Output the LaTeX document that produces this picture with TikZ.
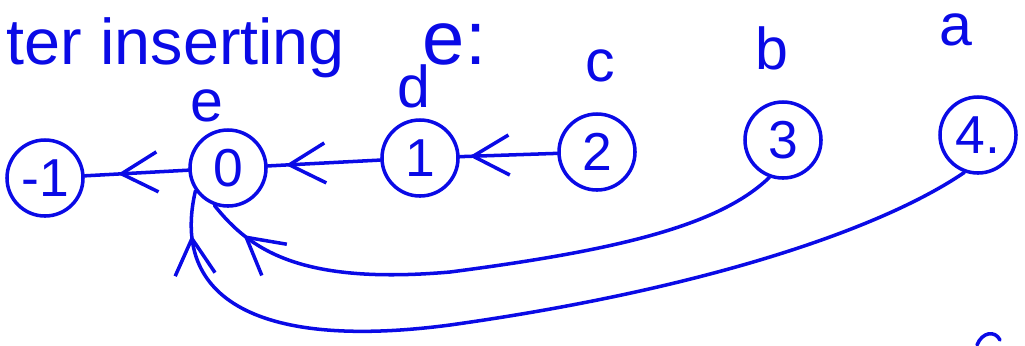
\documentclass[tikz,border=0pt]{standalone}
\usepackage{fontspec}
\setmainfont{Liberation Sans}
\usepackage{xcolor}
\usepackage{tikz}
\usetikzlibrary{arrows.meta, decorations.markings}
\definecolor{inkB}{RGB}{ 10, 10,230}

\begin{document}
\begin{tikzpicture}[
    x=0.025cm, y=-0.025cm,
    every node/.style={text=inkB},
    slot/.style={draw=inkB, line width=2.5pt, circle, minimum size=1.9cm, inner sep=0pt,
                 font=\fontsize{38}{42}\selectfont},
    letter/.style={font=\fontsize{42}{46}\selectfont},
    link/.style={draw=inkB, line width=2.5pt, line cap=round},
    mid arrow/.style={postaction={decorate}, decoration={markings,
        mark=at position #1 with {\arrow[inkB, line width=2.5pt]{Straight Barb[length=9mm, width=10mm]}}}}
  ]
  \useasboundingbox (0,0) rectangle (1025,345);
  % heading
  \node[letter, font=\fontsize{46}{50}\selectfont, anchor=base west] (head) at (2,64) {ter inserting};
  \node[letter, font=\fontsize{54}{58}\selectfont, anchor=base west] (newkey) at (418,64) {e:};
  % slots
  \node[slot] (nm1) at (45,178)  {-1};
  \node[slot] (n0)  at (228,168) {0};
  \node[slot] (n1)  at (420,158) {1};
  \node[slot] (n2)  at (597,152) {2};
  \node[slot] (n3)  at (783,140) {3};
  \node[slot] (n4)  at (978,135) {4.};
  % keys above the slots
  \node[letter] (ke) at (207,106) {e};
  \node[letter] (kd) at (414,86)  {d};
  \node[letter] (kc) at (600,66)  {c};
  \node[letter] (kb) at (772,48)  {b};
  \node[letter] (ka) at (956,30)  {a};
  % chain links
  \draw[link, mid arrow=0.68] (n0) -- (nm1);
  \draw[link, mid arrow=0.84] (n1) -- (n0);
  \draw[link, mid arrow=0.9]  (n2) -- (n1);
  \draw[link, mid arrow=0.93] (n3.250) .. controls (720,225) and (620,250) .. (450,272)
        .. controls (300,285) and (250,250) .. (n0.250);
  \draw[link, mid arrow=0.95] (n4.250) .. controls (880,230) and (700,290) .. (450,325)
        .. controls (260,350) and (170,300) .. (n0.215);
  % stray stroke, bottom right
  \draw[link] (977,345) .. controls (982,332) and (995,330) .. (1000,340);
\end{tikzpicture}
\end{document}
